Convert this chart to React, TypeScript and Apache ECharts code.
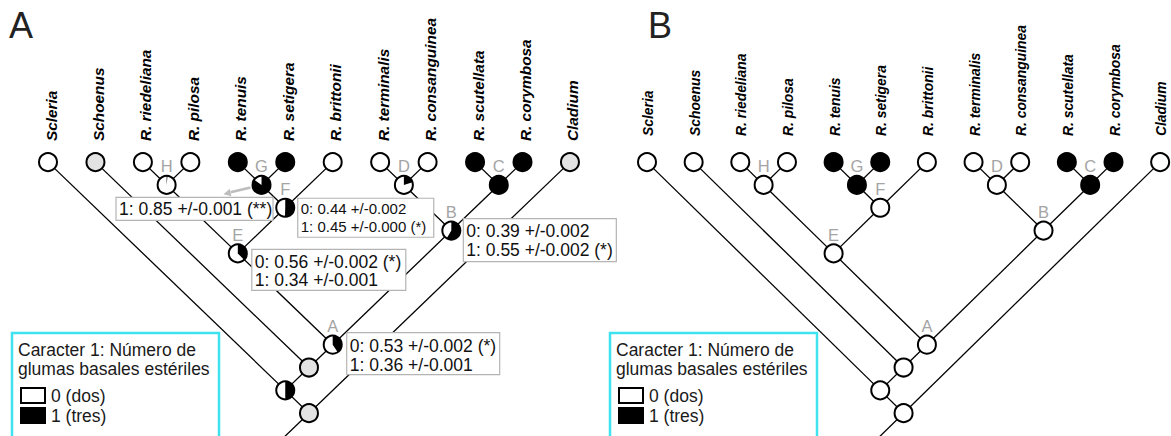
import React, { useEffect, useRef } from "react";
import * as echarts from "echarts";

// ---------------- data ----------------
const taxa = [
  "Scleria", "Schoenus", "R. riedeliana", "R. pilosa", "R. tenuis", "R. setigera",
  "R. brittonii", "R. terminalis", "R. consanguinea", "R. scutellata", "R. corymbosa", "Cladium",
];
// leaf state (1 = tres / black, 0 = dos / white, null = not coded / gray)
const leafStateA = [0, null, 0, 0, 1, 1, 0, 0, 0, 1, 1, null];
const leafStateB = [0, 0, 0, 0, 1, 1, 0, 0, 0, 1, 1, 0];

// internal clades (children: leaf index or clade name)
const cladeNames = ["H", "G", "F", "E", "D", "C", "B", "A", "n2", "n3", "root"];
const cladeChildren: (number | string)[][] = [
  [2, 3], [4, 5], ["G", 6], ["H", "F"], [7, 8], [9, 10], ["D", "C"], ["E", "B"], [1, "A"], [0, "n2"], ["n3", 11],
];
const cladeLabels = ["H", "G", "F", "E", "D", "C", "B", "A", "", "", ""];

// panel A: likelihoods [state 0, state 1]; null = equivocal (gray)
const ancA: ([number, number] | null)[] = [
  [0.985, 0.015], [0.15, 0.85], [0.44, 0.45], [0.56, 0.34], [0.8, 0.2], [0, 1],
  [0.39, 0.55], [0.53, 0.36], null, [0.5, 0.5], null,
];
// panel B: parsimony states
const ancB = [0, 1, 0, 0, 0, 1, 0, 0, 0, 0, 0];

const annotClades = ["G", "F", "E", "B", "A"];
const annotLines = [
  ["1: 0.85 +/-0.001 (**)"],
  ["0: 0.44 +/-0.002", "1: 0.45 +/-0.000 (*)"],
  ["0: 0.56 +/-0.002 (*)", "1: 0.34 +/-0.001"],
  ["0: 0.39 +/-0.002", "1: 0.55 +/-0.002 (*)"],
  ["0: 0.53 +/-0.002 (*)", "1: 0.36 +/-0.001"],
];

const legendTitle = ["Caracter 1: Número de", "glumas basales estériles"];
const legendItems = ["0 (dos)", "1 (tres)"];
const panelLetters = ["A", "B"];

// ---------------- layout / styles ----------------
const FONT = '"Liberation Sans", Arial, sans-serif';
const GRAY = "#e3e3e3";
const LABEL_GRAY = "#a4a4a4";
const R = 9;

const panelStyle = {
  A: { leafFont: 15.4, leafDx: 3, leafDy: -21 },
  B: { leafFont: 13.9, leafDx: 1, leafDy: -26 },
};

const annotLayout: Record<string, { dx: number; dy: number; w: number; h: number; fs: number; ly: number[] }> = {
  G: { dx: -145.5, dy: 12.5, w: 157, h: 23, fs: 17.5, ly: [11.5] },
  F: { dx: 12.5, dy: -9.5, w: 136, h: 39, fs: 15, ly: [10, 28] },
  E: { dx: 14, dy: -4, w: 154, h: 41, fs: 17.5, ly: [13, 31] },
  B: { dx: 12, dy: -12, w: 153, h: 43, fs: 17.5, ly: [12.5, 31.5] },
  A: { dx: 14, dy: -12, w: 153, h: 42, fs: 17.5, ly: [13, 32.5] },
};

type Node = { u: number; v: number; leaf: number; clade: number };

function buildTree() {
  const pos: Record<string, [number, number]> = {};
  const nodes: Node[] = [];
  taxa.forEach((_, i) => {
    pos["L" + i] = [i, 0];
    nodes.push({ u: i, v: 0, leaf: i, clade: -1 });
  });
  const edges: number[][] = [];
  cladeNames.forEach((n, k) => {
    const ch = cladeChildren[k].map((c) => (typeof c === "number" ? pos["L" + c] : pos[c]));
    const [a, b] = ch;
    const t = (b[0] - a[0] + b[1] - a[1]) / 2;
    pos[n] = [a[0] + t, a[1] + t];
    nodes.push({ u: pos[n][0], v: pos[n][1], leaf: -1, clade: k });
    ch.forEach((c) => edges.push([c[0], c[1], pos[n][0], pos[n][1]]));
  });
  const root = pos["root"];
  edges.push([root[0], root[1], root[0] - 0.8, root[1] + 0.8]);
  return { pos, nodes, edges };
}

const tree = buildTree();

function pieEls(cx: number, cy: number, state: [number, number] | null) {
  const els: any[] = [];
  if (state === null) {
    els.push({ type: "circle", shape: { cx, cy, r: R }, style: { fill: GRAY, stroke: "#000", lineWidth: 2 } });
    return els;
  }
  const f = state[1] / (state[0] + state[1]);
  els.push({ type: "circle", shape: { cx, cy, r: R }, style: { fill: "#fff" } });
  if (f >= 0.999) {
    els.push({ type: "circle", shape: { cx, cy, r: R }, style: { fill: "#000" } });
  } else if (f > 0) {
    els.push({
      type: "sector",
      shape: { cx, cy, r: R, r0: 0, startAngle: -Math.PI / 2, endAngle: -Math.PI / 2 + 2 * Math.PI * f, clockwise: true },
      style: { fill: "#000" },
    });
  }
  els.push({ type: "circle", shape: { cx, cy, r: R }, style: { fill: "rgba(0,0,0,0)", stroke: "#000", lineWidth: 2 } });
  return els;
}

function edgeSeries(axis: number) {
  return {
    type: "custom",
    xAxisIndex: axis,
    yAxisIndex: axis,
    silent: true,
    z: 1,
    data: tree.edges,
    renderItem: (_p: any, api: any) => {
      const a = api.coord([api.value(0), api.value(1)]);
      const b = api.coord([api.value(2), api.value(3)]);
      return { type: "line", shape: { x1: a[0], y1: a[1], x2: b[0], y2: b[1] }, style: { stroke: "#000", lineWidth: 1.3 } };
    },
  };
}

function nodeSeries(axis: number, panel: "A" | "B") {
  const ps = panelStyle[panel];
  return {
    type: "custom",
    xAxisIndex: axis,
    yAxisIndex: axis,
    silent: true,
    z: 2,
    data: tree.nodes.map((n, i) => [n.u, n.v, i]),
    renderItem: (p: any, api: any) => {
      const n = tree.nodes[p.dataIndex];
      const [x, y] = api.coord([api.value(0), api.value(1)]);
      let state: [number, number] | null;
      if (n.leaf >= 0) {
        const s = panel === "A" ? leafStateA[n.leaf] : leafStateB[n.leaf];
        state = s === null ? null : [1 - s, s];
      } else {
        if (panel === "A") state = ancA[n.clade];
        else state = [1 - ancB[n.clade], ancB[n.clade]];
      }
      const children: any[] = pieEls(x, y, state);
      if (n.leaf >= 0) {
        children.push({
          type: "text",
          x: x + ps.leafDx,
          y: y + ps.leafDy,
          rotation: Math.PI / 2,
          style: {
            text: taxa[n.leaf],
            font: `italic bold ${ps.leafFont}px ${FONT}`,
            fill: "#000",
            textAlign: "left",
            textVerticalAlign: "middle",
          },
        });
      } else if (cladeLabels[n.clade]) {
        children.push({
          type: "text",
          x: x,
          y: y - 18.5,
          style: {
            text: cladeLabels[n.clade],
            font: `16.5px ${FONT}`,
            fill: LABEL_GRAY,
            textAlign: "center",
            textVerticalAlign: "middle",
          },
        });
      }
      return { type: "group", children };
    },
  };
}

function annotSeries() {
  return {
    type: "custom",
    xAxisIndex: 0,
    yAxisIndex: 0,
    silent: true,
    z: 3,
    data: annotClades.map((c, i) => [tree.pos[c][0], tree.pos[c][1], i]),
    renderItem: (p: any, api: any) => {
      const i = p.dataIndex;
      const c = annotClades[i];
      const L = annotLayout[c];
      const [x, y] = api.coord([api.value(0), api.value(1)]);
      const bx = x + L.dx;
      const by = y + L.dy;
      const children: any[] = [
        { type: "rect", shape: { x: bx, y: by, width: L.w, height: L.h }, style: { fill: "#fff", stroke: "#b4b4b4", lineWidth: 1.2 } },
      ];
      annotLines[i].forEach((t, k) => {
        children.push({
          type: "text",
          x: bx + 3,
          y: by + L.ly[k],
          style: { text: t, font: `${L.fs}px ${FONT}`, fill: "#111", textAlign: "left", textVerticalAlign: "middle" },
        });
      });
      if (c === "G") {
        children.push({
          type: "line",
          shape: { x1: x - 11, y1: y + 2.5, x2: x - 31, y2: y + 7.4 },
          style: { stroke: "#bdbdbd", lineWidth: 2.5 },
        });
        children.push({
          type: "polygon",
          shape: { points: [[x - 38, y + 9.2], [x - 30.2, y + 11.2], [x - 31.8, y + 3.8]] },
          style: { fill: "#bdbdbd" },
        });
      }
      return { type: "group", children };
    },
  };
}

function legendGraphic(ox: number) {
  return [
    {
      type: "rect",
      z: 10,
      shape: { x: ox + 12, y: 333, width: 207, height: 120 },
      style: { fill: "#fff", stroke: "#3fe3ef", lineWidth: 2.5 },
    },
    { type: "text", z: 11, x: ox + 18, y: 350, style: { text: legendTitle[0], font: `17.5px ${FONT}`, fill: "#1a1a1a", textVerticalAlign: "middle" } },
    { type: "text", z: 11, x: ox + 18, y: 369, style: { text: legendTitle[1], font: `17.5px ${FONT}`, fill: "#1a1a1a", textVerticalAlign: "middle" } },
    { type: "rect", z: 11, shape: { x: ox + 21, y: 388, width: 24, height: 15 }, style: { fill: "#fff", stroke: "#000", lineWidth: 2 } },
    { type: "rect", z: 11, shape: { x: ox + 20, y: 407, width: 26, height: 17 }, style: { fill: "#000" } },
    { type: "text", z: 11, x: ox + 51, y: 396, style: { text: legendItems[0], font: `17.5px ${FONT}`, fill: "#1a1a1a", textVerticalAlign: "middle" } },
    { type: "text", z: 11, x: ox + 51, y: 416, style: { text: legendItems[1], font: `17.5px ${FONT}`, fill: "#1a1a1a", textVerticalAlign: "middle" } },
  ];
}

function buildOption() {
  // panel A: leaf step 47.45 px starting at x=48; panel B: step 46.65 px starting at x=647
  const gridA = { left: 48 - 47.45, top: 116.45, width: 47.45 * 12, height: 325.85, containLabel: false };
  const gridB = { left: 647 - 46.65, top: 116.45, width: 46.65 * 12, height: 325.85, containLabel: false };
  const xa = (g: number) => ({ type: "value", gridIndex: g, min: -1, max: 11, show: false });
  const ya = (g: number) => ({ type: "value", gridIndex: g, min: -1, max: 6, inverse: true, show: false });
  return {
    animation: false,
    backgroundColor: "#fff",
    grid: [gridA, gridB],
    xAxis: [xa(0), xa(1)],
    yAxis: [ya(0), ya(1)],
    series: [edgeSeries(0), nodeSeries(0, "A"), annotSeries(), edgeSeries(1), nodeSeries(1, "B")],
    graphic: [
      { type: "text", z: 10, x: 9, y: 25, style: { text: panelLetters[0], font: `36px ${FONT}`, fill: "#222", textVerticalAlign: "middle" } },
      { type: "text", z: 10, x: 648, y: 25, style: { text: panelLetters[1], font: `36px ${FONT}`, fill: "#222", textVerticalAlign: "middle" } },
      ...legendGraphic(0),
      ...legendGraphic(598),
    ],
  };
}

export default function App() {
  const ref = useRef<HTMLDivElement>(null);
  useEffect(() => {
    document.body.style.margin = "0";
    const chart = echarts.init(ref.current!, null, { renderer: "svg" });
    chart.setOption(buildOption() as any);
    return () => chart.dispose();
  }, []);
  return (
    <div
      ref={ref}
      style={{ position: "fixed", left: 0, top: 0, width: 1171, height: 436, background: "#fff" }}
    />
  );
}
